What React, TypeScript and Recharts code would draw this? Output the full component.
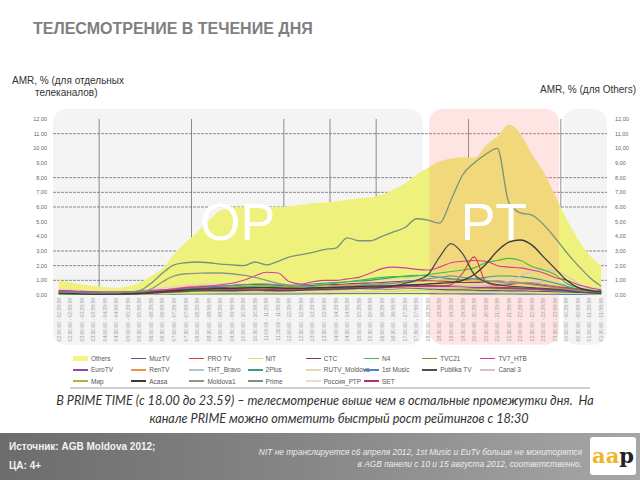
import React from 'react';
import { ComposedChart, Area, Line, XAxis, YAxis, ReferenceArea, ReferenceLine, ReferenceDot } from 'recharts';

const timeSlots = [
  '02:00:00 - 02:29:59', '02:30:00 - 02:59:59', '03:00:00 - 03:29:59', '03:30:00 - 03:59:59',
  '04:00:00 - 04:29:59', '04:30:00 - 04:59:59', '05:00:00 - 05:29:59', '05:30:00 - 05:59:59',
  '06:00:00 - 06:29:59', '06:30:00 - 06:59:59', '07:00:00 - 07:29:59', '07:30:00 - 07:59:59',
  '08:00:00 - 08:29:59', '08:30:00 - 08:59:59', '09:00:00 - 09:29:59', '09:30:00 - 09:59:59',
  '10:00:00 - 10:29:59', '10:30:00 - 10:59:59', '11:00:00 - 11:29:59', '11:30:00 - 11:59:59',
  '12:00:00 - 12:29:59', '12:30:00 - 12:59:59', '13:00:00 - 13:29:59', '13:30:00 - 13:59:59',
  '14:00:00 - 14:29:59', '14:30:00 - 14:59:59', '15:00:00 - 15:29:59', '15:30:00 - 15:59:59',
  '16:00:00 - 16:29:59', '16:30:00 - 16:59:59', '17:00:00 - 17:29:59', '17:30:00 - 17:59:59',
  '18:00:00 - 18:29:59', '18:30:00 - 18:59:59', '19:00:00 - 19:29:59', '19:30:00 - 19:59:59',
  '20:00:00 - 20:29:59', '20:30:00 - 20:59:59', '21:00:00 - 21:29:59', '21:30:00 - 21:59:59',
  '22:00:00 - 22:29:59', '22:30:00 - 22:59:59', '23:00:00 - 23:29:59', '23:30:00 - 23:59:59',
  '00:00:00 - 00:29:59', '00:30:00 - 00:59:59', '01:00:00 - 01:29:59', '01:30:00 - 01:59:59',
];

const yTicks = [0, 1, 2, 3, 4, 5, 6, 7, 8, 9, 10, 11, 12];
const gridValues = [1, 2, 3, 6, 7, 8, 11];
const gridSlots = [4, 12, 20, 24, 28, 36, 44];

const others = [1.0,0.85,0.72,0.62,0.55,0.5,0.6,0.85,1.3,1.8,2.8,3.6,4.3,5.1,5.75,5.95,6.0,6.0,6.0,6.0,6.05,6.15,6.25,6.3,6.4,6.5,6.6,6.65,6.85,7.2,7.6,8.2,8.7,9.1,9.3,9.4,9.35,10.2,10.8,11.6,11.0,9.6,8.4,6.8,5.2,3.8,2.7,2.0];
const muzTV = [0.12,0.1,0.08,0.07,0.06,0.06,0.07,0.1,0.15,0.2,0.25,0.3,0.3,0.32,0.3,0.28,0.3,0.32,0.3,0.28,0.3,0.32,0.35,0.35,0.38,0.4,0.42,0.4,0.4,0.42,0.45,0.45,0.4,0.38,0.35,0.35,0.32,0.3,0.3,0.28,0.28,0.26,0.25,0.22,0.2,0.18,0.15,0.12];
const proTV = [0.15,0.12,0.1,0.08,0.07,0.07,0.08,0.1,0.15,0.22,0.3,0.35,0.38,0.4,0.42,0.45,0.45,0.5,0.5,0.45,0.4,0.42,0.45,0.45,0.5,0.5,0.55,0.55,0.6,0.6,0.62,0.65,0.6,0.6,0.7,1.5,2.6,0.9,0.65,0.7,0.8,0.75,0.65,0.55,0.45,0.35,0.25,0.18];
const nit = [0.05,0.04,0.03,0.03,0.03,0.03,0.03,0.04,0.06,0.08,0.1,0.12,0.12,0.14,0.15,0.15,0.15,0.16,0.16,0.15,0.15,0.16,0.18,0.18,0.2,0.2,0.22,0.22,0.24,0.25,0.28,0.3,0.32,0.35,0.38,0.4,0.4,0.38,0.36,0.35,0.3,0.28,0.25,0.2,0.15,0.1,0.08,0.06];
const ctc = [0.25,0.2,0.15,0.12,0.1,0.1,0.12,0.15,0.22,0.3,0.4,0.5,0.55,0.6,0.62,0.65,0.7,0.72,0.7,0.65,0.6,0.62,0.65,0.7,0.72,0.75,0.8,0.82,0.85,0.9,0.95,1.0,1.0,0.95,0.9,0.85,0.85,0.9,0.95,0.9,0.85,0.8,0.7,0.6,0.5,0.4,0.32,0.25];
const n4 = [0.1,0.08,0.06,0.05,0.05,0.05,0.06,0.1,0.15,0.2,0.25,0.3,0.3,0.35,0.4,0.5,0.55,0.6,0.6,0.55,0.5,0.55,0.6,0.7,0.8,0.9,1.0,1.1,1.2,1.25,1.25,1.3,1.4,1.5,1.6,1.7,1.85,2.2,2.35,2.5,2.35,1.95,1.7,1.4,0.8,0.5,0.35,0.25];
const tvc21 = [0.1,0.08,0.06,0.05,0.05,0.05,0.06,0.08,0.12,0.16,0.2,0.22,0.25,0.26,0.28,0.3,0.3,0.3,0.28,0.28,0.3,0.32,0.34,0.35,0.36,0.38,0.4,0.42,0.45,0.48,0.5,0.55,0.6,0.62,0.6,0.58,0.55,0.55,0.5,0.48,0.45,0.4,0.35,0.3,0.25,0.2,0.15,0.12];
const tv7 = [0.3,0.25,0.2,0.2,0.2,0.2,0.2,0.25,0.3,0.35,0.4,0.5,0.55,0.6,0.7,0.8,1.0,1.3,1.55,1.5,0.9,0.75,0.9,1.0,1.0,1.1,1.2,1.5,1.8,1.9,1.85,1.75,1.7,1.9,2.2,2.3,2.35,2.3,2.0,1.9,1.85,1.7,1.5,1.2,1.0,0.7,0.5,0.35];
const euroTV = [0.3,0.28,0.25,0.22,0.2,0.2,0.22,0.25,0.3,0.35,0.4,0.45,0.45,0.5,0.5,0.52,0.55,0.55,0.5,0.5,0.45,0.45,0.5,0.5,0.55,0.55,0.6,0.6,0.62,0.65,0.7,0.7,0.65,0.6,0.55,0.55,0.5,0.5,0.45,0.45,0.42,0.4,0.38,0.35,0.35,0.32,0.3,0.3];
const renTV = [0.15,0.12,0.1,0.08,0.08,0.08,0.1,0.12,0.2,0.3,0.45,0.55,0.6,0.65,0.65,0.6,0.6,0.62,0.65,0.6,0.55,0.55,0.6,0.62,0.65,0.68,0.7,0.72,0.75,0.8,0.85,0.9,0.95,1.0,1.05,1.0,0.95,0.95,0.9,0.9,0.85,0.8,0.7,0.6,0.45,0.35,0.25,0.18];
const thtBravo = [0.2,0.15,0.12,0.1,0.1,0.1,0.1,0.12,0.18,0.25,0.3,0.35,0.4,0.42,0.45,0.48,0.5,0.5,0.48,0.45,0.45,0.48,0.5,0.55,0.6,0.62,0.65,0.68,0.7,0.7,0.72,0.75,0.7,0.65,0.6,0.6,0.62,0.65,0.7,0.75,0.8,0.85,0.9,0.85,0.7,0.5,0.35,0.25];
const twoPlus = [0.1,0.08,0.06,0.05,0.05,0.05,0.06,0.1,0.15,0.25,0.35,0.45,0.5,0.55,0.6,0.65,0.7,0.75,0.75,0.7,0.65,0.7,0.75,0.8,0.85,0.9,0.95,1.0,1.1,1.2,1.3,1.35,1.3,1.2,1.1,1.05,1.1,1.2,1.3,1.3,1.25,1.15,1.0,0.8,0.6,0.4,0.25,0.15];
const rutv = [0.4,0.35,0.3,0.25,0.2,0.2,0.22,0.3,0.4,0.5,0.6,0.7,0.75,0.8,0.8,0.78,0.75,0.78,0.8,0.75,0.7,0.72,0.75,0.8,0.85,0.9,0.95,1.0,1.05,1.1,1.15,1.2,1.25,1.3,1.3,1.25,1.2,1.2,1.15,1.1,1.05,1.0,0.9,0.8,0.7,0.6,0.5,0.45];
const firstMusic = [0.03,0.03,0.02,0.02,0.02,0.02,0.02,0.03,0.04,0.05,0.06,0.07,0.08,0.08,0.08,0.08,0.08,0.08,0.08,0.08,0.08,0.08,0.09,0.09,0.1,0.1,0.1,0.1,0.1,0.1,0.1,0.1,0.1,0.09,0.09,0.08,0.08,0.08,0.07,0.07,0.06,0.06,0.05,0.05,0.04,0.04,0.03,0.03];
const publika = [0.1,0.08,0.06,0.05,0.05,0.05,0.06,0.08,0.12,0.18,0.22,0.25,0.28,0.3,0.3,0.3,0.32,0.33,0.32,0.3,0.3,0.32,0.35,0.38,0.4,0.42,0.45,0.48,0.5,0.6,0.8,1.0,1.4,2.6,3.5,2.8,1.4,0.9,0.7,0.6,0.55,0.5,0.45,0.4,0.3,0.2,0.15,0.1];
const canal3 = [0.1,0.08,0.06,0.05,0.05,0.05,0.06,0.08,0.12,0.16,0.2,0.22,0.25,0.26,0.28,0.3,0.3,0.3,0.3,0.28,0.28,0.3,0.32,0.34,0.35,0.36,0.38,0.4,0.42,0.45,0.48,0.5,0.5,0.5,0.52,0.55,0.58,0.6,0.75,0.95,1.3,1.6,1.7,1.65,1.3,0.8,0.4,0.2];
const mir = [0.2,0.18,0.15,0.12,0.1,0.1,0.12,0.15,0.2,0.25,0.3,0.35,0.35,0.38,0.4,0.4,0.4,0.42,0.42,0.4,0.38,0.4,0.42,0.45,0.45,0.48,0.5,0.5,0.5,0.52,0.55,0.55,0.55,0.5,0.5,0.48,0.45,0.45,0.42,0.4,0.4,0.38,0.35,0.32,0.3,0.28,0.25,0.22];
const acasa = [0.15,0.12,0.1,0.08,0.08,0.08,0.1,0.12,0.18,0.25,0.3,0.35,0.4,0.42,0.45,0.45,0.48,0.5,0.5,0.48,0.45,0.45,0.48,0.5,0.52,0.55,0.58,0.6,0.6,0.62,0.65,0.7,0.75,0.8,0.85,1.0,1.4,2.1,3.0,3.6,3.75,3.4,2.6,1.8,1.0,0.5,0.3,0.2];
const moldova1 = [0.15,0.12,0.1,0.1,0.1,0.1,0.15,0.2,0.4,0.9,1.3,1.45,1.48,1.5,1.5,1.45,1.35,1.2,1.0,0.8,0.68,0.6,0.55,0.5,0.55,0.6,0.65,0.7,0.75,0.8,0.9,1.0,1.1,1.2,1.3,1.2,1.1,1.0,0.9,0.8,0.8,0.7,0.6,0.5,0.4,0.3,0.2,0.15];
const prime = [0.2,0.2,0.15,0.15,0.15,0.15,0.2,0.3,0.8,1.5,2.05,2.2,2.25,2.2,2.1,2.05,2.0,2.25,2.05,2.3,2.6,2.75,2.9,3.1,3.2,3.9,3.7,3.7,4.0,4.3,4.6,5.2,5.1,4.9,6.5,8.2,9.0,9.6,10.0,6.3,5.6,5.45,4.8,3.9,2.9,2.0,1.2,0.6];
const rossiya = [0.3,0.25,0.2,0.18,0.15,0.15,0.18,0.25,0.35,0.45,0.55,0.6,0.65,0.7,0.7,0.7,0.68,0.7,0.72,0.7,0.68,0.7,0.72,0.75,0.78,0.8,0.85,0.88,0.9,0.95,1.0,1.05,1.1,1.1,1.05,1.0,1.0,1.05,1.1,1.1,1.05,1.0,0.95,0.85,0.75,0.6,0.45,0.35];
const setTV = [0.2,0.18,0.15,0.12,0.1,0.1,0.12,0.15,0.2,0.25,0.3,0.32,0.35,0.35,0.38,0.4,0.4,0.4,0.38,0.36,0.35,0.36,0.38,0.4,0.42,0.44,0.46,0.48,0.5,0.52,0.55,0.58,0.6,0.62,0.6,0.58,0.55,0.55,0.52,0.5,0.48,0.45,0.4,0.35,0.3,0.25,0.22,0.2];

const OTHERS_COLOR = '#eef27c';

// legend order
const legendItems = [
  { name: 'Others', color: '#f3f58a', values: others },
  { name: 'MuzTV', color: '#4b5b8c', values: muzTV },
  { name: 'PRO TV', color: '#d23c4c', values: proTV },
  { name: 'NIT', color: '#f2d06a', values: nit },
  { name: 'CTC', color: '#7e3c52', values: ctc },
  { name: 'N4', color: '#3fbf3f', values: n4 },
  { name: 'TVC21', color: '#a07c3c', values: tvc21 },
  { name: 'TV7_НТВ', color: '#d43ca0', values: tv7 },
  { name: 'EuroTV', color: '#8a4ea2', values: euroTV },
  { name: 'RenTV', color: '#e8924c', values: renTV },
  { name: 'ТНТ_Bravo', color: '#b4c4dc', values: thtBravo },
  { name: '2Plus', color: '#3c9c8c', values: twoPlus },
  { name: 'RUTV_Moldova', color: '#e6d6b2', values: rutv },
  { name: '1st Music', color: '#4f7fc4', values: firstMusic },
  { name: 'Publika TV', color: '#4f4f4f', values: publika },
  { name: 'Canal 3', color: '#d4c2cc', values: canal3 },
  { name: 'Мир', color: '#b2b23c', values: mir },
  { name: 'Acasa', color: '#3a3a3a', values: acasa },
  { name: 'Moldova1', color: '#8c968c', values: moldova1 },
  { name: 'Prime', color: '#78927f', values: prime },
  { name: 'Россия_РТР', color: '#e6ded0', values: rossiya },
  { name: 'SET', color: '#b4306e', values: setTV },
];

// drawing order of lines (bottom to top)
const drawOrder = ['1st Music', 'NIT', 'Россия_РТР', 'RUTV_Moldova', 'ТНТ_Bravo', 'Мир', 'TVC21', 'MuzTV', 'EuroTV', 'SET', 'CTC', 'RenTV', '2Plus', 'Canal 3', 'N4', 'TV7_НТВ', 'PRO TV', 'Moldova1', 'Publika TV', 'Acasa', 'Prime'];

const rows = timeSlots.map((label, i) => {
  const r: Record<string, number | string> = { x: i + 0.5, label };
  legendItems.forEach((s) => { r[s.name] = s.values[i]; });
  return r;
});

const fmt = (v: number) => v.toFixed(2).replace('.', ',');

const TimeTick = (props: any) => {
  const { x, y, payload } = props;
  const label = timeSlots[Math.round(payload.value - 0.5)] || '';
  return (
    <text x={x} y={y} transform={`rotate(-90, ${x}, ${y})`} textAnchor="end" dy={1.8}
      fontSize={5} fill="#9a9a9a" fontFamily="Liberation Sans, Arial, sans-serif">{label}</text>
  );
};

const roundBox = (fill: string) => (p: any) => (
  <rect x={p.x} y={p.y} width={p.width} height={p.height} rx={14} ry={14} fill={fill} />
);

const FONT = 'Liberation Sans, Arial, sans-serif';

export default function App() {
  return (
    <div style={{ position: 'absolute', left: 0, top: 0, width: 640, height: 480, background: '#fff', overflow: 'hidden', fontFamily: FONT }}>
      <div style={{ position: 'absolute', left: 33, top: 20, fontSize: 16, fontWeight: 'bold', color: '#7f7f7f', whiteSpace: 'nowrap', lineHeight: '17px' }}>
        ТЕЛЕСМОТРЕНИЕ В ТЕЧЕНИЕ ДНЯ
      </div>
      <div style={{ position: 'absolute', left: 12, top: 75, fontSize: 10, color: '#333', lineHeight: '12px', whiteSpace: 'nowrap' }}>
        AMR, % (для отдельных
      </div>
      <div style={{ position: 'absolute', left: 35, top: 87, fontSize: 10, color: '#333', lineHeight: '12px', whiteSpace: 'nowrap' }}>
        телеканалов)
      </div>
      <div style={{ position: 'absolute', right: 4, top: 84, fontSize: 10, color: '#333', lineHeight: '12px', whiteSpace: 'nowrap' }}>
        AMR, % (для Others)
      </div>

      <div style={{ position: 'absolute', left: 0, top: 0 }}>
        <ComposedChart width={640} height={480} data={rows} margin={{ top: 119, right: 0, bottom: 130, left: 0 }}>
          <XAxis dataKey="x" type="number" domain={[0, 48]} ticks={rows.map((r) => r.x as number)} interval={0}
            tick={<TimeTick />} tickLine={false} axisLine={false} height={55} tickSize={0} tickMargin={3} allowDataOverflow />
          <YAxis yAxisId="left" domain={[0, 12]} ticks={yTicks} interval={0} tickFormatter={fmt} width={53}
            tickLine={false} axisLine={false} tickSize={4} tickMargin={2} tick={{ fontSize: 5.5, fill: '#666', fontFamily: FONT }} allowDataOverflow />
          <YAxis yAxisId="right" orientation="right" domain={[0, 12]} ticks={yTicks} interval={0} tickFormatter={fmt} width={33}
            tickLine={false} axisLine={false} tickSize={6} tickMargin={2} tick={{ fontSize: 5.5, fill: '#666', fontFamily: FONT, textAnchor: 'start' }} allowDataOverflow />

          <ReferenceArea yAxisId="left" x1={0} x2={32.05} y1={-3.4} y2={12.7} ifOverflow="visible" shape={roundBox('#f4f4f4')} zIndex={-200} />
          <ReferenceArea yAxisId="left" x1={44.2} x2={48} y1={-3.4} y2={12.7} ifOverflow="visible" shape={roundBox('#f4f4f4')} zIndex={-200} />

          {gridValues.map((v) => (
            <ReferenceLine key={'h' + v} yAxisId="left" y={v} stroke="#6e6e6e" strokeWidth={0.8} strokeDasharray="3 1" ifOverflow="visible" zIndex={-150} />
          ))}
          {gridSlots.map((v) => (
            <ReferenceLine key={'v' + v} yAxisId="left" x={v} stroke="#6e6e6e" strokeWidth={0.8} ifOverflow="visible" zIndex={-150} />
          ))}

          <Area yAxisId="right" type="monotone" dataKey="Others" fill={OTHERS_COLOR} fillOpacity={1} stroke="none" isAnimationActive={false} dot={false} activeDot={false} />

          <ReferenceArea yAxisId="left" x1={32.6} x2={43.85} y1={-3.4} y2={12.7} ifOverflow="visible" shape={roundBox('rgba(255,120,120,0.2)')} zIndex={150} />

          {drawOrder.map((name) => {
            const s = legendItems.find((l) => l.name === name)!;
            const w = name === 'Prime' || name === 'Moldova1' || name === 'Publika TV' || name === 'Acasa' ? 1.3 : 1.1;
            return (
              <Line key={name} yAxisId="left" type="monotone" dataKey={name} stroke={s.color} strokeWidth={w}
                dot={false} activeDot={false} isAnimationActive={false} />
            );
          })}

          <ReferenceDot yAxisId="left" x={16} y={5} r={1} fill="none" stroke="none" ifOverflow="visible" zIndex={2500}
            label={{ value: 'OP', position: 'center', fill: '#ffffff', fontSize: 52, fontFamily: FONT }} />
          <ReferenceDot yAxisId="left" x={38.2} y={5} r={1} fill="none" stroke="none" ifOverflow="visible" zIndex={2500}
            label={{ value: 'PT', position: 'center', fill: '#ffffff', fontSize: 52, fontFamily: FONT }} />
        </ComposedChart>
      </div>

      {/* legend */}
      <div style={{ position: 'absolute', left: 73, top: 353, width: 520 }}>
        {legendItems.map((s, i) => (
          <div key={s.name} style={{ position: 'absolute', left: (i % 8) * 58.2, top: Math.floor(i / 8) * 11.3, height: 11, display: 'flex', alignItems: 'center', whiteSpace: 'nowrap' }}>
            <span style={{ display: 'inline-block', width: 15, height: s.name === 'Others' ? 5 : 1.5, background: s.color, marginRight: 3 }} />
            <span style={{ fontSize: 6.5, color: '#555', lineHeight: '11px' }}>{s.name}</span>
          </div>
        ))}
      </div>
      <div style={{ position: 'absolute', left: 70, top: 387, width: 520, height: 1.5, background: '#cfcfcf' }} />

      {/* caption */}
      <div style={{ position: 'absolute', left: 15, top: 393, width: 620, textAlign: 'center', fontSize: 12.6, fontStyle: 'italic', color: '#333', fontFamily: 'Lato, Liberation Sans, sans-serif', lineHeight: '16px', whiteSpace: 'nowrap' }}>
        В PRIME TIME (с 18.00 до 23.59) – телесмотрение выше чем в остальные промежутки дня.&nbsp; На
      </div>
      <div style={{ position: 'absolute', left: 48, top: 411, width: 582, textAlign: 'center', fontSize: 12.6, fontStyle: 'italic', color: '#333', fontFamily: 'Lato, Liberation Sans, sans-serif', lineHeight: '16px', whiteSpace: 'nowrap' }}>
        канале PRIME можно отметить быстрый рост рейтингов с 18:30
      </div>

      {/* footer */}
      <div style={{ position: 'absolute', left: 0, top: 433, width: 640, height: 47, background: 'linear-gradient(90deg, #6c6c6c 0%, #858585 45%, #a6a6a6 100%)' }} />
      <div style={{ position: 'absolute', left: 9, top: 441, fontSize: 10, fontWeight: 'bold', color: '#f2f2f2', whiteSpace: 'nowrap', lineHeight: '12px' }}>
        Источник: AGB Moldova 2012;
      </div>
      <div style={{ position: 'absolute', left: 9, top: 460, fontSize: 10, fontWeight: 'bold', color: '#f2f2f2', whiteSpace: 'nowrap', lineHeight: '12px' }}>
        ЦА: 4+
      </div>
      <div style={{ position: 'absolute', right: 58, top: 447, fontSize: 8.4, fontStyle: 'italic', color: '#ececec', whiteSpace: 'nowrap', lineHeight: '10px', textAlign: 'right' }}>
        NIT не транслируется с6 апреля 2012, 1st Music и EuTv больше не мониторятся
      </div>
      <div style={{ position: 'absolute', right: 58, top: 459, fontSize: 8.4, fontStyle: 'italic', color: '#ececec', whiteSpace: 'nowrap', lineHeight: '10px', textAlign: 'right' }}>
        в AGB панели с 10 и 15 августа 2012, соответственно.
      </div>
      <div style={{ position: 'absolute', left: 590, top: 437, width: 46, height: 38, background: '#fff', borderRadius: 3, display: 'flex', alignItems: 'center', justifyContent: 'center', fontFamily: 'DejaVu Serif, serif', fontWeight: 'bold', fontSize: 21, lineHeight: '38px' }}>
        <span style={{ color: '#f0b428' }}>aa</span><span style={{ color: '#222' }}>p</span>
      </div>
    </div>
  );
}
